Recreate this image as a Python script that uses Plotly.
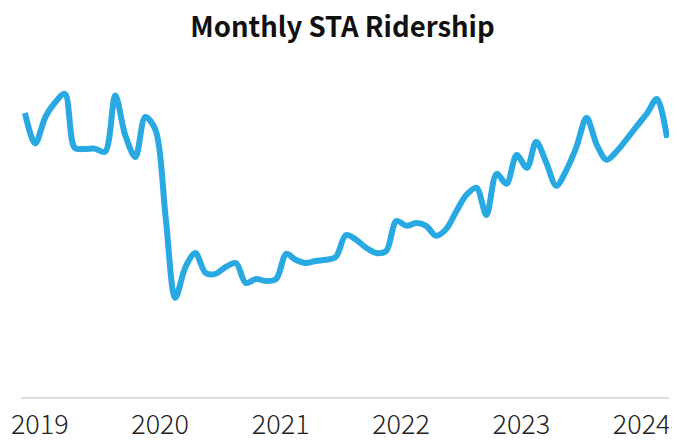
import pandas as pd
import plotly.graph_objects as go

# Monthly ridership (thousands of rides), Dec 2018 – Apr 2024
start_month = "2018-12-01"
ridership = [
    710, 634, 700, 735, 758, 623, 620, 621, 613, 754, 655, 600, 700,
    668, 448, 248, 325, 360, 310, 308, 325, 335, 285, 295, 290, 295,
    358, 343, 335, 340, 343, 350, 405, 393, 373, 360, 365, 440, 428,
    435, 428, 403, 420, 463, 505, 523, 455, 558, 533, 605, 573, 638,
    585, 528, 568, 625, 698, 630, 593, 615, 645, 678, 710, 745, 648,
]
months = pd.date_range(start_month, periods=len(ridership), freq="MS")
tick_years = [2019, 2020, 2021, 2022, 2023, 2024]
tick_labels = [str(y) for y in tick_years]
tick_dates = [pd.Timestamp(year=y, month=1, day=15) for y in tick_years]

FONT = "Noto Sans CJK JP, Source Sans Pro, Lato, sans-serif"

fig = go.Figure(
    go.Scatter(
        x=months,
        y=ridership,
        mode="lines",
        line=dict(color="#29a9e1", width=6, shape="spline", smoothing=0.9),
        hoverinfo="skip",
    )
)

pad = pd.Timedelta(days=12)
# the page body adds an 8px margin, so the figure is 8px smaller than the window
fig.update_layout(
    width=669,
    height=432,
    margin=dict(l=13, r=6, t=59, b=43),
    paper_bgcolor="white",
    plot_bgcolor="white",
    showlegend=False,
    title=dict(
        text="<b>Monthly STA Ridership</b>",
        x=0.5,
        xanchor="center",
        xref="container",
        y=0.978,
        yanchor="top",
        font=dict(family=FONT, size=27.5, color="#111111"),
    ),
    xaxis=dict(
        type="date",
        range=[months[0] - pad, months[-1] + pad],
        tickvals=tick_dates,
        ticktext=tick_labels,
        showgrid=False,
        zeroline=False,
        showline=True,
        linecolor="#dcdcdc",
        linewidth=2,
        ticks="outside",
        ticklen=3,
        tickcolor="rgba(0,0,0,0)",
        automargin=False,
        ticklabeloverflow="allow",
        tickfont=dict(family=FONT, size=27, color="#222222", weight=300),
    ),
    yaxis=dict(
        range=[0, 825],
        visible=False,
        showgrid=False,
        zeroline=False,
    ),
)

fig.write_html("out.html")
